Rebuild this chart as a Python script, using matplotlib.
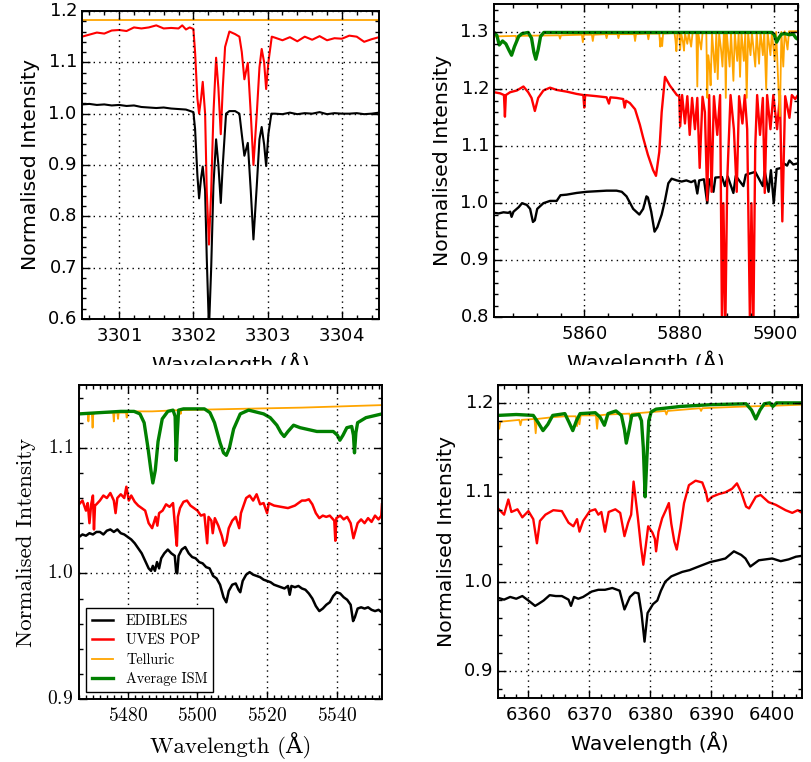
import matplotlib
matplotlib.use("Agg")
import matplotlib.pyplot as plt
from matplotlib.patches import Rectangle
from matplotlib.ticker import AutoMinorLocator, MultipleLocator

# ---- panel 1: 3302 A (Na I UV doublet) ----
P1_EDIBLES_WL = [3300.5, 3300.6, 3300.7, 3300.8, 3300.9, 3301.0, 3301.1, 3301.2, 3301.3, 3301.4, 3301.5,
                 3301.6, 3301.7, 3301.8, 3301.9, 3302.0, 3302.023, 3302.054, 3302.077, 3302.104, 3302.126,
                 3302.158, 3302.18, 3302.21, 3302.24, 3302.27, 3302.306, 3302.337, 3302.369, 3302.396,
                 3302.44, 3302.485, 3302.562, 3302.62, 3302.652, 3302.687, 3302.733, 3302.773, 3302.809,
                 3302.854, 3302.89, 3302.92, 3302.953, 3302.98, 3303.01, 3303.05, 3303.1, 3303.2, 3303.3,
                 3303.4, 3303.5, 3303.6, 3303.7, 3303.8, 3303.9, 3304.0, 3304.1, 3304.2, 3304.3, 3304.4, 3304.5]
P1_EDIBLES = [1.018, 1.019, 1.017, 1.018, 1.016, 1.017, 1.015, 1.016, 1.013, 1.012, 1.011,
              1.012, 1.010, 1.009, 1.008, 1.003, 0.970, 0.880, 0.835, 0.875, 0.897,
              0.850, 0.720, 0.580, 0.700, 0.860, 0.950, 0.900, 0.826, 0.900,
              1.000, 1.005, 1.005, 1.000, 0.960, 0.918, 0.943, 0.850, 0.755,
              0.860, 0.950, 0.974, 0.940, 0.898, 0.960, 1.000, 1.000, 0.999, 1.002,
              0.999, 1.001, 1.000, 1.003, 0.999, 1.001, 1.000, 1.000, 1.001, 0.999, 1.000, 1.002]
P1_UVES_WL = [3300.5, 3300.6, 3300.7, 3300.8, 3300.9, 3301.0, 3301.1, 3301.2, 3301.3, 3301.4, 3301.5,
              3301.6, 3301.7, 3301.8, 3301.85, 3301.9, 3301.95, 3302.0, 3302.023, 3302.054, 3302.077,
              3302.104, 3302.126, 3302.158, 3302.18, 3302.21, 3302.24, 3302.27, 3302.306, 3302.337,
              3302.369, 3302.396, 3302.427, 3302.485, 3302.562, 3302.62, 3302.652, 3302.687, 3302.733,
              3302.773, 3302.809, 3302.854, 3302.89, 3302.92, 3302.953, 3302.98, 3303.01, 3303.056,
              3303.1, 3303.2, 3303.3, 3303.4, 3303.5, 3303.6, 3303.7, 3303.8, 3303.9, 3304.0, 3304.1,
              3304.2, 3304.3, 3304.4, 3304.5]
P1_UVES = [1.150, 1.154, 1.158, 1.156, 1.162, 1.163, 1.161, 1.168, 1.166, 1.168, 1.172,
           1.166, 1.167, 1.166, 1.172, 1.164, 1.168, 1.165, 1.120, 1.030, 1.000,
           1.030, 1.062, 1.000, 0.850, 0.745, 0.850, 1.000, 1.109, 1.050,
           0.960, 1.050, 1.130, 1.160, 1.155, 1.150, 1.120, 1.067, 1.099,
           1.000, 0.900, 1.000, 1.090, 1.126, 1.100, 1.048, 1.100, 1.150,
           1.148, 1.143, 1.149, 1.141, 1.150, 1.144, 1.151, 1.143, 1.147, 1.146, 1.152,
           1.150, 1.140, 1.145, 1.149]
P1_TELL_WL = [3300.5, 3304.5]
P1_TELL = [1.183, 1.183]

# ---- panel 2: 5870 A (Na D region) ----
P2_EDIBLES_WL = [5841.0, 5842.0, 5843.0, 5844.0, 5844.4, 5844.7, 5845.1, 5846.2, 5846.9, 5847.9, 5848.6,
                 5849.2, 5849.6, 5850.1, 5851.4, 5852.8, 5854.2, 5855.0, 5856.3, 5858.4, 5860.5, 5862.6,
                 5864.7, 5866.8, 5867.9, 5868.9, 5870.3, 5871.6, 5872.4, 5873.1, 5873.4, 5874.1, 5874.8,
                 5875.4, 5876.3, 5877.0, 5877.7, 5878.4, 5879.5, 5880.5, 5881.5, 5882.5, 5883.3, 5883.8,
                 5884.2, 5885.2, 5885.9, 5886.3, 5887.2, 5887.6, 5889.0, 5889.6, 5890.2, 5891.4, 5891.9,
                 5893.5, 5894.0, 5896.0, 5897.6, 5898.0, 5898.8, 5899.3, 5899.9, 5900.5, 5901.5, 5902.0,
                 5902.7, 5903.2, 5904.0, 5905.0]
P2_EDIBLES = [0.983, 0.982, 0.984, 0.983, 0.985, 0.976, 0.985, 0.993, 1.000, 0.997, 0.990,
              0.967, 0.970, 0.990, 1.000, 1.004, 1.004, 1.014, 1.015, 1.018, 1.020, 1.021,
              1.022, 1.022, 1.020, 1.012, 0.990, 0.980, 0.990, 1.012, 1.010, 0.985, 0.950,
              0.958, 0.980, 1.005, 1.035, 1.043, 1.040, 1.038, 1.040, 1.037, 1.040, 1.017,
              1.040, 1.042, 1.000, 1.042, 1.020, 1.045, 1.046, 1.030, 1.047, 1.018, 1.048,
              1.030, 1.050, 1.055, 1.030, 1.056, 1.020, 1.058, 1.000, 1.060, 1.062, 1.070,
              1.066, 1.075, 1.068, 1.070]
P2_UVES_WL = [5841.0, 5842.3, 5843.1, 5843.3, 5843.5, 5844.4, 5845.8, 5847.2, 5848.2, 5848.9, 5849.6,
              5850.3, 5851.4, 5852.8, 5854.2, 5856.3, 5858.4, 5859.8, 5860.0, 5860.2, 5862.6, 5864.7,
              5865.2, 5865.5, 5866.8, 5868.2, 5868.5, 5868.8, 5869.6, 5870.7, 5871.7, 5872.4, 5873.4,
              5874.5, 5875.1, 5875.8, 5876.3, 5877.0, 5878.0, 5879.5, 5880.0, 5880.2, 5880.6, 5881.2,
              5881.7, 5882.2, 5882.7, 5883.3, 5883.8, 5884.3, 5884.9, 5885.4, 5885.9, 5886.3, 5886.8,
              5887.3, 5888.0, 5888.6, 5889.0, 5889.3, 5889.7, 5890.1, 5890.8, 5891.5, 5892.1, 5892.6,
              5893.3, 5893.8, 5894.3, 5894.9, 5895.2, 5895.6, 5896.0, 5896.4, 5897.0, 5897.6, 5898.0,
              5898.5, 5899.2, 5899.8, 5900.6, 5901.2, 5901.7, 5902.3, 5903.2, 5903.7, 5904.4, 5905.0]
P2_UVES = [1.195, 1.193, 1.190, 1.152, 1.190, 1.195, 1.198, 1.205, 1.195, 1.185, 1.162,
           1.185, 1.198, 1.203, 1.199, 1.196, 1.192, 1.190, 1.168, 1.190, 1.188, 1.186,
           1.175, 1.186, 1.185, 1.183, 1.168, 1.180, 1.176, 1.165, 1.138, 1.115, 1.085,
           1.058, 1.048, 1.090, 1.160, 1.222, 1.207, 1.190, 1.188, 1.135, 1.190, 1.140,
           1.188, 1.120, 1.185, 1.130, 1.185, 1.062, 1.187, 1.160, 1.005, 1.190, 1.020,
           1.188, 1.120, 1.190, 0.780, 1.000, 0.780, 1.040, 1.190, 1.130, 1.020, 1.188,
           1.140, 1.190, 1.130, 0.780, 1.000, 0.780, 1.100, 1.190, 1.120, 1.185, 1.018,
           1.190, 1.130, 1.190, 1.130, 1.190, 0.968, 1.188, 1.150, 1.190, 1.183, 1.190]
P2_TELL_WL = [5841.0, 5845.6, 5845.8, 5846.0, 5854.7, 5854.9, 5855.1, 5859.5, 5859.7, 5859.9, 5861.6,
              5861.8, 5862.0, 5864.5, 5864.7, 5864.9, 5867.0, 5867.2, 5867.4, 5870.5, 5870.7, 5870.9,
              5873.3, 5873.5, 5873.7, 5875.8, 5876.0, 5876.2, 5876.4, 5876.6, 5879.0, 5879.2, 5879.4,
              5879.6, 5880.0, 5880.2, 5880.4, 5880.8, 5881.0, 5881.2, 5881.7, 5882.0, 5882.5, 5882.8,
              5883.6, 5883.8, 5884.0, 5884.6, 5884.9, 5885.7, 5885.9, 5886.1, 5886.4, 5886.6, 5886.9,
              5887.5, 5887.8, 5888.1, 5888.4, 5888.8, 5889.1, 5889.4, 5889.6, 5889.8, 5890.0, 5890.6,
              5890.9, 5891.4, 5891.7, 5892.2, 5892.5, 5892.8, 5893.1, 5893.6, 5893.9, 5894.2, 5894.5,
              5895.0, 5895.3, 5896.0, 5896.3, 5896.8, 5897.1, 5897.6, 5897.9, 5898.3, 5898.6, 5899.2,
              5899.5, 5900.1, 5900.4, 5900.9, 5901.2, 5901.5, 5901.9, 5902.2, 5902.8, 5903.1, 5905.0]
P2_TELL = [1.293, 1.294, 1.285, 1.294, 1.295, 1.289, 1.295, 1.296, 1.283, 1.296, 1.296,
           1.285, 1.296, 1.297, 1.290, 1.297, 1.297, 1.290, 1.297, 1.297, 1.285, 1.297,
           1.298, 1.288, 1.298, 1.298, 1.275, 1.290, 1.276, 1.298, 1.299, 1.286, 1.267,
           1.299, 1.299, 1.270, 1.299, 1.282, 1.268, 1.299, 1.280, 1.299, 1.275, 1.299,
           1.299, 1.205, 1.299, 1.270, 1.299, 1.299, 1.185, 1.260, 1.240, 1.207, 1.299,
           1.230, 1.299, 1.218, 1.299, 1.270, 1.240, 1.300, 1.300, 1.185, 1.300, 1.240,
           1.300, 1.215, 1.300, 1.250, 1.300, 1.222, 1.300, 1.250, 1.300, 1.185, 1.300,
           1.260, 1.300, 1.240, 1.300, 1.245, 1.301, 1.260, 1.301, 1.200, 1.301, 1.260,
           1.301, 1.250, 1.301, 1.200, 1.153, 1.301, 1.240, 1.302, 1.270, 1.302, 1.302]
P2_ISM_WL = [5841.0, 5841.6, 5842.1, 5842.8, 5843.5, 5844.2, 5844.7, 5845.3, 5846.2, 5846.9, 5848.2,
             5848.9, 5849.4, 5849.8, 5850.3, 5850.8, 5851.5, 5899.5, 5900.0, 5900.5, 5901.0, 5901.5,
             5902.2, 5903.2, 5904.0, 5904.6, 5905.0]
P2_ISM = [1.300, 1.295, 1.278, 1.285, 1.280, 1.268, 1.260, 1.275, 1.293, 1.298, 1.300,
          1.290, 1.265, 1.253, 1.270, 1.293, 1.300, 1.300, 1.296, 1.283, 1.291, 1.297,
          1.298, 1.296, 1.297, 1.290, 1.288]

# ---- panel 3: 5500 A ----
P3_EDIBLES_WL = [5466, 5467, 5468, 5469, 5470, 5471, 5472, 5473, 5474, 5475, 5476, 5477, 5478, 5479,
                 5480, 5481, 5482, 5483, 5484, 5485, 5486, 5486.7, 5487.2, 5487.8, 5488.4, 5489, 5489.6,
                 5490.5, 5491.5, 5492.5, 5493.5, 5493.9, 5494.2, 5494.6, 5495.5, 5496.5, 5497.5, 5498.5,
                 5499.5, 5500.5, 5501.5, 5502.5, 5503.5, 5504.5, 5505.5, 5506.5, 5507.5, 5508.3, 5509,
                 5510, 5511, 5511.8, 5512.3, 5513, 5514, 5515, 5516, 5517, 5518, 5519, 5520, 5521, 5522,
                 5523, 5524, 5525, 5526, 5526.5, 5527, 5528, 5529, 5530, 5531, 5532, 5533, 5534, 5535,
                 5536, 5537, 5538, 5539, 5540, 5541, 5542, 5543, 5544, 5544.7, 5545.2, 5546, 5547, 5548,
                 5549, 5550, 5551, 5552, 5553]
P3_EDIBLES = [1.029, 1.031, 1.030, 1.032, 1.031, 1.033, 1.033, 1.031, 1.034, 1.035, 1.033, 1.035, 1.032, 1.031,
              1.029, 1.027, 1.024, 1.020, 1.016, 1.010, 1.004, 1.002, 1.006, 1.002, 1.009, 1.004, 1.012,
              1.016, 1.019, 1.016, 1.014, 1.001, 1.000, 1.014, 1.019, 1.021, 1.016, 1.013,
              1.012, 1.009, 1.008, 1.005, 1.004, 0.998, 0.996, 0.991, 0.981, 0.977, 0.986,
              0.991, 0.992, 0.987, 0.985, 0.994, 0.999, 1.001, 0.999, 0.998, 0.997, 0.995, 0.994, 0.993, 0.991,
              0.990, 0.989, 0.988, 0.990, 0.983, 0.990, 0.989, 0.990, 0.988, 0.987, 0.984, 0.980, 0.974, 0.970,
              0.972, 0.975, 0.977, 0.982, 0.985, 0.984, 0.981, 0.979, 0.975, 0.962, 0.965, 0.972, 0.973, 0.972,
              0.973, 0.971, 0.970, 0.971, 0.969]
P3_UVES_WL = [5466, 5467, 5468, 5468.5, 5469, 5469.5, 5470, 5470.3, 5470.6, 5471, 5472, 5473, 5474, 5475,
              5476, 5476.5, 5477, 5478, 5479, 5479.6, 5480.3, 5481, 5482, 5483, 5484, 5485, 5486, 5487,
              5488, 5488.5, 5489, 5490, 5491, 5492, 5493, 5493.8, 5494.1, 5494.4, 5495, 5496, 5497, 5498,
              5499, 5500, 5501, 5502, 5502.8, 5503.2, 5504, 5504.4, 5505, 5506, 5507, 5507.7, 5508.3,
              5509, 5510, 5511, 5512, 5512.5, 5513, 5514, 5515, 5516, 5517, 5518, 5519, 5520, 5520.5,
              5522, 5524, 5526, 5528, 5530, 5531, 5532, 5533, 5534, 5535, 5536, 5537, 5538, 5539.3,
              5539.6, 5539.9, 5541, 5542, 5543, 5544, 5544.8, 5545.3, 5546, 5547, 5548, 5549, 5550,
              5551, 5552, 5552.8, 5553]
P3_UVES = [1.055, 1.058, 1.050, 1.056, 1.040, 1.055, 1.062, 1.035, 1.054, 1.055, 1.058, 1.062, 1.060, 1.064,
           1.058, 1.048, 1.060, 1.063, 1.060, 1.069, 1.058, 1.062, 1.057, 1.054, 1.052, 1.050, 1.040, 1.036,
           1.045, 1.038, 1.048, 1.050, 1.055, 1.053, 1.056, 1.030, 1.022, 1.045, 1.052, 1.057, 1.058, 1.054,
           1.052, 1.050, 1.046, 1.047, 1.024, 1.045, 1.042, 1.032, 1.044, 1.038, 1.030, 1.022, 1.025,
           1.036, 1.042, 1.045, 1.036, 1.048, 1.052, 1.060, 1.062, 1.058, 1.063, 1.055, 1.056, 1.048, 1.056,
           1.054, 1.053, 1.052, 1.054, 1.058, 1.058, 1.059, 1.055, 1.048, 1.044, 1.046, 1.045, 1.046, 1.042,
           1.026, 1.044, 1.046, 1.043, 1.045, 1.040, 1.028, 1.033, 1.040, 1.043, 1.040, 1.044, 1.041,
           1.046, 1.043, 1.046, 1.055]
P3_TELL_WL = [5466, 5468.5, 5468.7, 5468.9, 5469.7, 5469.9, 5470.1, 5471, 5474, 5475.8, 5476.0, 5476.2,
              5477, 5477.2, 5477.4, 5479.5, 5479.7, 5479.9, 5484, 5487, 5495, 5495.2, 5495.4, 5512,
              5530, 5553]
P3_TELL = [1.127, 1.127, 1.121, 1.127, 1.127, 1.116, 1.127, 1.128, 1.128, 1.128, 1.121, 1.128,
           1.128, 1.123, 1.128, 1.128, 1.124, 1.129, 1.129, 1.129, 1.130, 1.127, 1.130, 1.131,
           1.132, 1.134]
P3_ISM_WL = [5466, 5472, 5478, 5481.8, 5483.5, 5484.7, 5485.8, 5486.6, 5487.2, 5487.9, 5488.7, 5489.9,
             5491.5, 5493.0, 5493.6, 5493.9, 5494.2, 5494.6, 5496, 5502.0, 5503.6, 5504.9, 5506.5,
             5507.5, 5508.3, 5509.2, 5510.4, 5512.3, 5514.7, 5519.0, 5520.9, 5522.8, 5524.0, 5524.9,
             5526.0, 5527.6, 5529.5, 5534.3, 5539.0, 5540.2, 5540.9, 5541.8, 5542.9, 5544.3, 5544.8,
             5545.1, 5545.5, 5546.0, 5548.4, 5553.0]
P3_ISM = [1.127, 1.128, 1.129, 1.129, 1.127, 1.120, 1.100, 1.083, 1.072, 1.082, 1.105, 1.123,
          1.129, 1.130, 1.125, 1.090, 1.110, 1.130, 1.131, 1.131, 1.128, 1.120, 1.104,
          1.096, 1.094, 1.100, 1.115, 1.127, 1.130, 1.127, 1.124, 1.118, 1.112, 1.109,
          1.113, 1.118, 1.116, 1.113, 1.113, 1.110, 1.106, 1.110, 1.116, 1.117, 1.110,
          1.096, 1.112, 1.120, 1.124, 1.127]

# ---- panel 4: 6380 A ----
P4_EDIBLES_WL = [6355, 6356, 6357, 6358, 6359, 6360, 6361.1, 6361.6, 6362.5, 6363.5, 6364.5, 6365.5,
                 6366.6, 6367.0, 6367.5, 6368.2, 6369.0, 6370.4, 6371.5, 6372.6, 6373.8, 6375.0, 6375.8,
                 6376.7, 6377.5, 6378.1, 6378.6, 6379.1, 6379.6, 6380.5, 6381.2, 6381.8, 6382.5, 6383.5,
                 6385.3, 6386.5, 6388.0, 6389.9, 6391.2, 6392.4, 6393.8, 6395.0, 6395.7, 6396.5, 6397.9,
                 6399.0, 6400.1, 6401.5, 6402.8, 6404.0, 6405]
P4_EDIBLES = [0.982, 0.980, 0.983, 0.981, 0.984, 0.979, 0.973, 0.975, 0.979, 0.985, 0.984, 0.984,
              0.980, 0.973, 0.983, 0.981, 0.983, 0.989, 0.991, 0.991, 0.993, 0.990, 0.969,
              0.983, 0.988, 0.987, 0.965, 0.933, 0.965, 0.975, 0.979, 0.990, 1.000, 1.006,
              1.011, 1.013, 1.017, 1.022, 1.024, 1.026, 1.034, 1.030, 1.026, 1.017, 1.024,
              1.025, 1.026, 1.023, 1.025, 1.028, 1.029]
P4_UVES_WL = [6355, 6356, 6356.7, 6357.2, 6358.2, 6359.0, 6360.0, 6360.8, 6361.4, 6361.9, 6362.8, 6364.1,
              6365.5, 6366.6, 6367.4, 6368.0, 6368.4, 6369.0, 6370.1, 6371.0, 6371.5, 6372.0, 6372.6,
              6373.2, 6374.3, 6375.1, 6375.8, 6376.4, 6376.9, 6377.3, 6378.0, 6378.5, 6378.9, 6379.3,
              6379.7, 6380.4, 6380.8, 6381.0, 6381.4, 6382.0, 6382.6, 6383.1, 6383.5, 6384.0, 6384.4,
              6385.0, 6385.6, 6386.4, 6387.5, 6388.6, 6389.2, 6389.5, 6390.2, 6391.3, 6392.4, 6393.5,
              6394.3, 6395.0, 6395.8, 6396.3, 6397.4, 6398.2, 6399.5, 6400.7, 6402.3, 6403.4, 6404.3, 6405]
P4_UVES = [1.082, 1.075, 1.092, 1.078, 1.081, 1.072, 1.079, 1.070, 1.043, 1.068, 1.075, 1.080,
           1.079, 1.066, 1.062, 1.070, 1.056, 1.068, 1.079, 1.081, 1.075, 1.078, 1.056,
           1.078, 1.081, 1.077, 1.051, 1.066, 1.075, 1.112, 1.072, 1.040, 1.019, 1.040,
           1.062, 1.055, 1.048, 1.034, 1.056, 1.071, 1.080, 1.088, 1.065, 1.045, 1.036,
           1.060, 1.088, 1.108, 1.113, 1.111, 1.100, 1.090, 1.095, 1.098, 1.100, 1.104,
           1.110, 1.100, 1.084, 1.082, 1.095, 1.097, 1.089, 1.086, 1.080, 1.077, 1.080, 1.077]
P4_TELL_WL = [6355, 6355.2, 6355.4, 6357, 6358.5, 6358.7, 6358.9, 6361.0, 6361.2, 6361.4, 6364, 6366,
              6367.8, 6368.0, 6368.2, 6368.4, 6368.6, 6371.1, 6371.3, 6371.5, 6373, 6376.6, 6376.8,
              6377, 6382.5, 6382.7, 6382.9, 6388.2, 6388.4, 6388.6, 6392, 6396, 6401, 6405]
P4_TELL = [1.178, 1.171, 1.179, 1.180, 1.181, 1.175, 1.181, 1.182, 1.166, 1.182, 1.184, 1.185,
           1.185, 1.174, 1.185, 1.176, 1.186, 1.186, 1.171, 1.186, 1.187, 1.188, 1.182,
           1.188, 1.191, 1.187, 1.191, 1.194, 1.191, 1.194, 1.195, 1.196, 1.197, 1.198]
P4_ISM_WL = [6355, 6358, 6360.8, 6361.6, 6362.4, 6363.2, 6364.0, 6366.0, 6366.7, 6367.3, 6367.9, 6368.5,
             6371.0, 6371.8, 6372.5, 6373.1, 6374.4, 6375.3, 6375.8, 6376.1, 6376.5, 6377.0, 6378.2,
             6378.6, 6378.9, 6379.2, 6379.5, 6379.8, 6380.2, 6381.0, 6385, 6390, 6395.8, 6396.7,
             6397.4, 6398.1, 6398.8, 6399.7, 6400.2, 6400.8, 6405]
P4_ISM = [1.186, 1.187, 1.186, 1.178, 1.169, 1.176, 1.186, 1.188, 1.178, 1.169, 1.180, 1.188,
          1.189, 1.184, 1.175, 1.188, 1.191, 1.186, 1.170, 1.155, 1.168, 1.186, 1.187,
          1.180, 1.150, 1.095, 1.140, 1.180, 1.190, 1.193, 1.196, 1.198, 1.199, 1.192,
          1.182, 1.192, 1.199, 1.200, 1.196, 1.200, 1.200]

LABELS = ["EDIBLES", "UVES POP", "Telluric", "Average ISM"]
COLORS = ["black", "red", "orange", "green"]

SANS = ["DejaVu Sans"]
SERIF = ["cmr10", "DejaVu Serif"]

plt.style.use("classic")
plt.rcParams["axes.formatter.use_mathtext"] = True


def draw(ax, series, xlim, ylim, xmaj, xminor, font, tsize, lsize, lw):
    widths = [lw, lw, 1.3, 2.4]
    for (x, y), c, w, lab in zip(series, COLORS, widths, LABELS):
        if x is None:
            continue
        ax.plot(x, y, color=c, lw=w, label=lab)
    ax.set_xlim(*xlim); ax.set_ylim(*ylim)
    ax.xaxis.set_major_locator(MultipleLocator(xmaj))
    ax.xaxis.set_minor_locator(AutoMinorLocator(xminor))
    ax.yaxis.set_major_locator(MultipleLocator(0.1))
    ax.yaxis.set_minor_locator(AutoMinorLocator(5))
    ax.ticklabel_format(useOffset=False)
    ax.grid(True, which="major", color="black", linestyle=":", linewidth=1.0)
    ax.tick_params(which="both", direction="in", top=True, right=True, labelsize=tsize)
    ax.tick_params(which="major", length=5.5, width=1.0)
    ax.tick_params(which="minor", length=2.8, width=1.0)
    ax.tick_params(axis="x", pad=6)
    for lab in ax.get_xticklabels() + ax.get_yticklabels():
        lab.set_fontfamily(font)
    for s in ax.spines.values():
        s.set_linewidth(1.4)
    ax.set_xlabel("Wavelength (Å)", fontsize=lsize, family=font)
    ax.set_ylabel("Normalised Intensity", fontsize=lsize, family=font)


fig = plt.figure(figsize=(8.11, 7.62), dpi=100, facecolor="white")
W, H = 811.0, 762.0


def axes_px(x0, x1, y0, y1):
    return fig.add_axes([x0 / W, 1 - y1 / H, (x1 - x0) / W, (y1 - y0) / H])


ax1 = axes_px(82, 379, 11, 319)
draw(ax1, [(P1_EDIBLES_WL, P1_EDIBLES), (P1_UVES_WL, P1_UVES), (P1_TELL_WL, P1_TELL), (None, None)],
     (3300.5, 3304.5), (0.6, 1.2), 1, 5, SANS, 13, 14.7, 1.5)

ax2 = axes_px(494, 798, 4, 317)
draw(ax2, [(P2_EDIBLES_WL, P2_EDIBLES), (P2_UVES_WL, P2_UVES), (P2_TELL_WL, P2_TELL), (P2_ISM_WL, P2_ISM)],
     (5841, 5905), (0.8, 1.35), 20, 4, SANS, 13, 14.7, 1.7)

ax3 = axes_px(79, 382, 385, 699)
draw(ax3, [(P3_EDIBLES_WL, P3_EDIBLES), (P3_UVES_WL, P3_UVES), (P3_TELL_WL, P3_TELL), (P3_ISM_WL, P3_ISM)],
     (5466, 5553), (0.9, 1.15), 20, 10, SERIF, 14, 16.5, 1.8)
ax3.yaxis.labelpad = 8
ax3.legend(loc="lower left", bbox_to_anchor=(7 / 303, 7 / 314), borderaxespad=0, prop={"family": SERIF, "size": 10.3},
           handlelength=1.5, handletextpad=0.9, labelspacing=0.4, frameon=True, fancybox=False,
           edgecolor="black", numpoints=1)

ax4 = axes_px(498, 802, 385, 698)
draw(ax4, [(P4_EDIBLES_WL, P4_EDIBLES), (P4_UVES_WL, P4_UVES), (P4_TELL_WL, P4_TELL), (P4_ISM_WL, P4_ISM)],
     (6355, 6405), (0.87, 1.22), 10, 5, SANS, 13, 14.7, 1.7)

# the lower row sits over the bottom of the upper x labels in the original
fig.add_artist(Rectangle((0, 1 - 384 / H), 1, 19 / H, transform=fig.transFigure,
                         facecolor="white", edgecolor="none", zorder=5))

fig.savefig("out.png", dpi=100, facecolor="white")
